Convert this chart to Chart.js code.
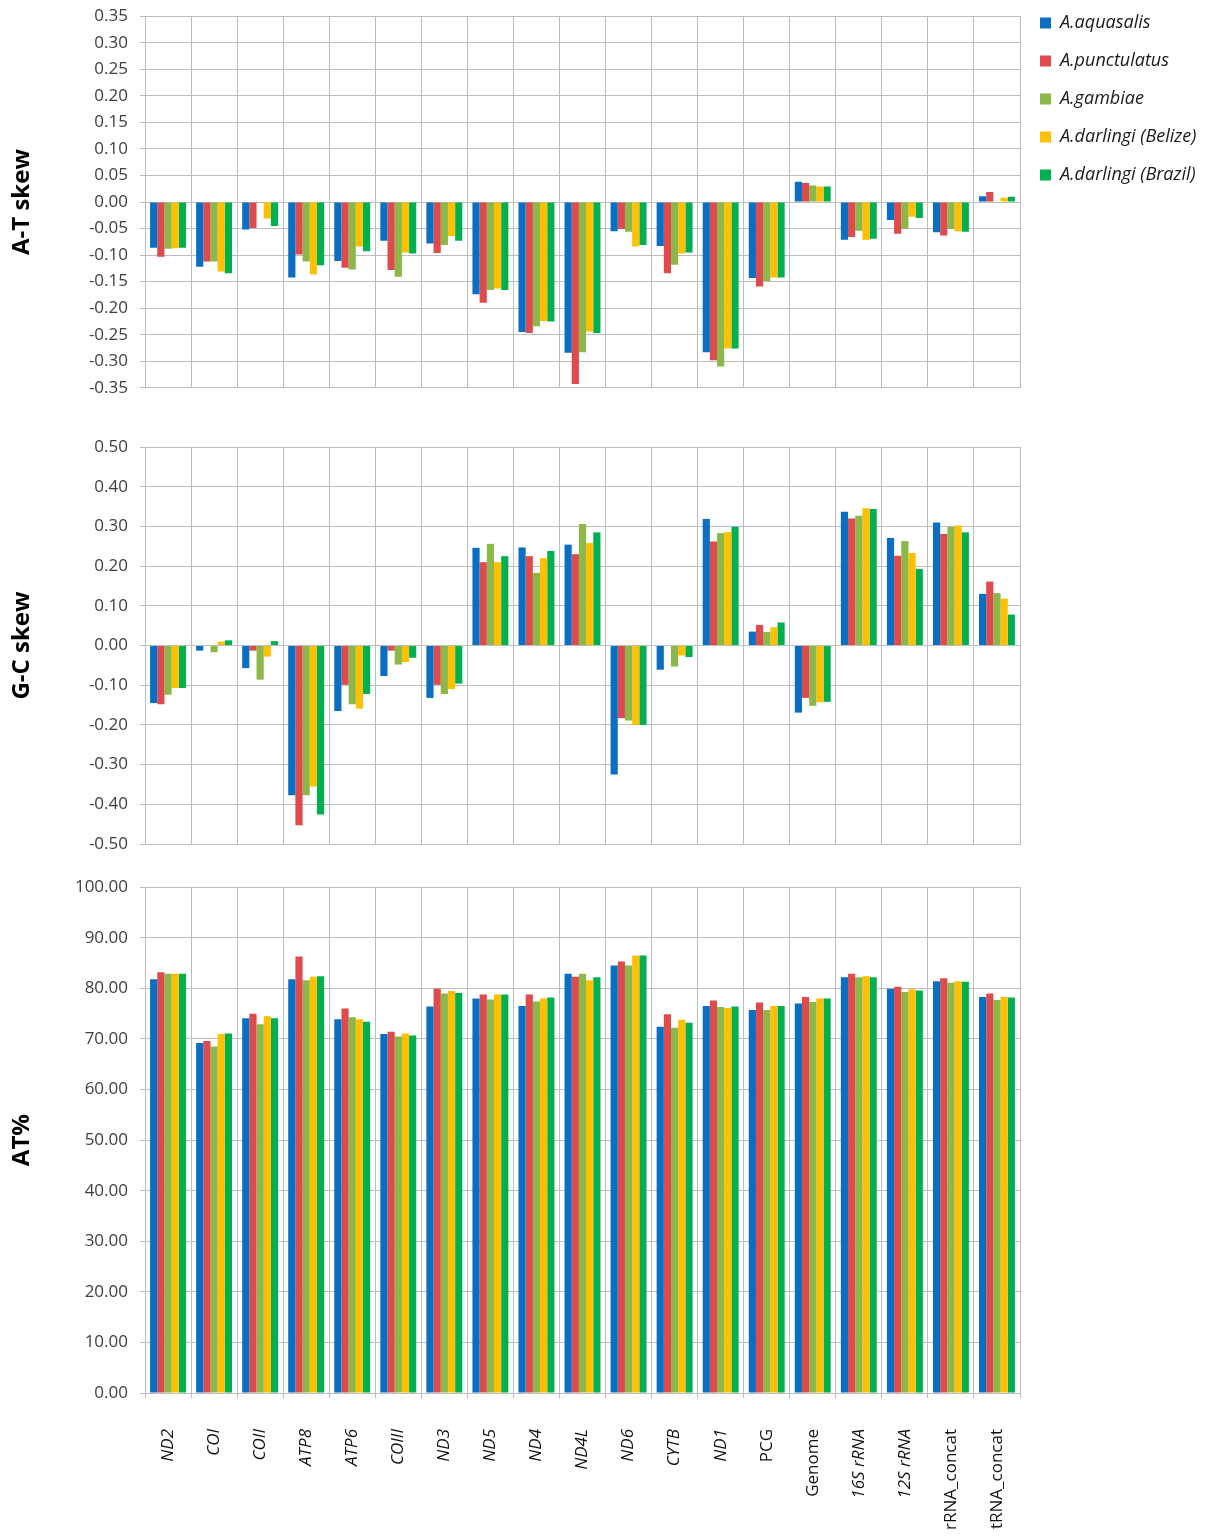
<!DOCTYPE html>
<html>
<head>
<meta charset="utf-8">
<title>Nucleotide skew and AT content of Anopheles mitogenomes</title>
<script src="https://cdn.jsdelivr.net/npm/chart.js@4.4.1/dist/chart.umd.min.js"></script>
<style>
  html, body { margin: 0; padding: 0; background: #ffffff; }
  body { width: 1221px; height: 1537px; position: relative; overflow: hidden; }
  canvas { position: absolute; left: 0; }
</style>
</head>
<body>
<canvas id="atSkewChart" width="1221" height="416" style="top:-6px"></canvas>
<canvas id="gcSkewChart" width="1221" height="458" style="top:412px"></canvas>
<canvas id="atContentChart" width="1221" height="672" style="top:865px"></canvas>
<script>
// ---- categories and species ----
const categories = ['ND2', 'COI', 'COII', 'ATP8', 'ATP6', 'COIII', 'ND3', 'ND5', 'ND4', 'ND4L',
  'ND6', 'CYTB', 'ND1', 'PCG', 'Genome', '16S rRNA', '12S rRNA', 'rRNA_concat', 'tRNA_concat'];
const uprightLabels = ['PCG', 'Genome', 'rRNA_concat', 'tRNA_concat'];
const speciesNames = ['A.aquasalis', 'A.punctulatus', 'A.gambiae', 'A.darlingi (Belize)', 'A.darlingi (Brazil)'];
const speciesColors = ['#0A6FC2', '#DF4A4C', '#8CB84A', '#FFC000', '#00AF50'];

// ---- A-T skew ----
const atSkewAquasalis   = [-0.086, -0.122, -0.052, -0.142, -0.111, -0.073, -0.078, -0.174, -0.245, -0.284, -0.055, -0.083, -0.283, -0.143, 0.038, -0.071, -0.034, -0.057, 0.011];
const atSkewPunctulatus = [-0.103, -0.112, -0.049, -0.099, -0.124, -0.128, -0.096, -0.190, -0.247, -0.343, -0.051, -0.134, -0.298, -0.159, 0.036, -0.066, -0.060, -0.063, 0.019];
const atSkewGambiae     = [-0.088, -0.112, -0.002, -0.112, -0.127, -0.141, -0.081, -0.166, -0.234, -0.283, -0.056, -0.118, -0.310, -0.149, 0.031, -0.054, -0.051, -0.051, -0.001];
const atSkewBelize      = [-0.087, -0.131, -0.031, -0.136, -0.084, -0.095, -0.064, -0.163, -0.224, -0.244, -0.084, -0.097, -0.276, -0.142, 0.029, -0.071, -0.028, -0.055, 0.008];
const atSkewBrazil      = [-0.086, -0.134, -0.045, -0.119, -0.093, -0.097, -0.073, -0.166, -0.225, -0.247, -0.081, -0.095, -0.276, -0.142, 0.029, -0.069, -0.030, -0.056, 0.010];

// ---- G-C skew ----
const gcSkewAquasalis   = [-0.145, -0.013, -0.057, -0.377, -0.165, -0.077, -0.132, 0.246, 0.247, 0.254, -0.325, -0.061, 0.319, 0.035, -0.169, 0.337, 0.271, 0.310, 0.130];
const gcSkewPunctulatus = [-0.148, 0.000, -0.013, -0.453, -0.099, -0.013, -0.099, 0.210, 0.225, 0.230, -0.183, 0.000, 0.262, 0.052, -0.132, 0.320, 0.226, 0.281, 0.161];
const gcSkewGambiae     = [-0.124, -0.017, -0.086, -0.377, -0.148, -0.048, -0.122, 0.256, 0.183, 0.306, -0.189, -0.053, 0.283, 0.034, -0.152, 0.327, 0.263, 0.299, 0.132];
const gcSkewBelize      = [-0.107, 0.010, -0.028, -0.355, -0.159, -0.042, -0.110, 0.210, 0.220, 0.258, -0.200, -0.025, 0.286, 0.046, -0.143, 0.346, 0.233, 0.302, 0.118];
const gcSkewBrazil      = [-0.107, 0.013, 0.011, -0.426, -0.122, -0.031, -0.096, 0.225, 0.238, 0.285, -0.200, -0.029, 0.299, 0.058, -0.142, 0.344, 0.193, 0.285, 0.078];

// ---- AT content (%) ----
const atPctAquasalis   = [81.8, 69.2, 74.1, 81.8, 73.9, 71.0, 76.4, 78.0, 76.5, 82.9, 84.5, 72.4, 76.5, 75.7, 77.0, 82.2, 79.9, 81.4, 78.3];
const atPctPunctulatus = [83.2, 69.6, 75.0, 86.3, 76.0, 71.4, 79.9, 78.8, 78.8, 82.3, 85.3, 74.9, 77.6, 77.2, 78.3, 82.9, 80.3, 82.0, 79.0];
const atPctGambiae     = [82.9, 68.5, 72.9, 81.6, 74.3, 70.5, 79.0, 77.8, 77.4, 82.9, 84.5, 72.2, 76.3, 75.7, 77.3, 82.2, 79.3, 81.1, 77.7];
const atPctBelize      = [82.9, 71.0, 74.5, 82.3, 73.9, 71.1, 79.5, 78.8, 78.0, 81.6, 86.5, 73.8, 76.1, 76.5, 78.0, 82.4, 79.8, 81.4, 78.3];
const atPctBrazil      = [82.9, 71.1, 74.1, 82.4, 73.4, 70.7, 79.1, 78.8, 78.2, 82.2, 86.5, 73.2, 76.4, 76.5, 78.0, 82.2, 79.6, 81.3, 78.2];

// ---- shared styling ----
const FONT = '"Open Sans", "DejaVu Sans", sans-serif';
const GRID = '#BDBDBD';
const PLOT_LEFT = 145;
const PLOT_RIGHT = 1020;
const CANVAS_W = 1221;

function formatTick(v) {
  return Math.abs(v) < 1e-9 ? '0.00' : Number(v).toFixed(2);
}

// Moves the legend up so its first entry sits level with the top of the plot.
const legendLift = {
  id: 'legendLift',
  afterLayout(chart, args, opts) {
    if (chart.legend && opts && typeof opts.top === 'number') {
      const h = chart.legend.height;
      chart.legend.top = opts.top;
      chart.legend.bottom = opts.top + h;
    }
  }
};

function buildPanel(canvasId, cfg) {
  const datasets = speciesNames.map((name, i) => ({
    label: name,
    data: cfg.series[i],
    backgroundColor: speciesColors[i],
    borderWidth: 0,
    categoryPercentage: 0.78,
    barPercentage: 1.0
  }));

  const chart = new Chart(document.getElementById(canvasId), {
    type: 'bar',
    data: { labels: categories, datasets },
    plugins: cfg.legend ? [legendLift] : [],
    options: {
      responsive: false,
      animation: false,
      devicePixelRatio: 1,
      events: [],
      layout: { padding: { top: cfg.padTop, right: CANVAS_W - PLOT_RIGHT, bottom: 0, left: 0 } },
      plugins: {
        tooltip: { enabled: false },
        legendLift: { top: 0 },
        legend: cfg.legend ? {
          display: true,
          position: 'right',
          align: 'start',
          labels: {
            boxWidth: 11,
            boxHeight: 11,
            padding: 20,
            color: '#1a1a1a',
            font: { family: FONT, size: 18, style: 'italic' }
          }
        } : { display: false }
      },
      scales: {
        x: {
          grid: { color: GRID, lineWidth: 1, offset: true, drawTicks: cfg.showLabels, tickLength: 5 },
          border: { color: GRID },
          ticks: {
            display: cfg.showLabels,
            autoSkip: false,
            minRotation: 90,
            maxRotation: 90,
            padding: 31,
            color: '#111111',
            font: (ctx) => ({
              family: FONT,
              size: 17,
              style: uprightLabels.includes(categories[ctx.index]) ? 'normal' : 'italic'
            })
          },
          afterFit: (scale) => { scale.height = cfg.xHeight; }
        },
        y: {
          min: cfg.min,
          max: cfg.max,
          grid: { color: GRID, lineWidth: 1, tickLength: 5 },
          border: { color: GRID },
          ticks: {
            stepSize: cfg.step,
            padding: 12,
            color: '#404040',
            font: { family: FONT, size: 17 },
            callback: formatTick
          },
          title: {
            display: true,
            text: cfg.title,
            color: '#000000',
            font: { family: FONT, size: 24, weight: 'bold' },
            padding: { top: 8, bottom: 0 }
          },
          afterFit: (scale) => { scale.width = PLOT_LEFT; }
        }
      }
    }
  });

  // Line the right edge of the plot up with the other panels.
  for (let pass = 0; pass < 3; pass++) {
    const delta = chart.chartArea.right - PLOT_RIGHT;
    if (Math.abs(delta) < 0.5) break;
    chart.options.layout.padding.right += delta;
    chart.update('none');
  }
  return chart;
}

// Canvas tops: -6, 412 and 865 px; plot areas span 15-388, 447-844 and 887-1393 px.
buildPanel('atSkewChart', {
  series: [atSkewAquasalis, atSkewPunctulatus, atSkewGambiae, atSkewBelize, atSkewBrazil],
  title: 'A-T skew', min: -0.35, max: 0.35, step: 0.05,
  padTop: 21, xHeight: 22, showLabels: false, legend: true
});

buildPanel('gcSkewChart', {
  series: [gcSkewAquasalis, gcSkewPunctulatus, gcSkewGambiae, gcSkewBelize, gcSkewBrazil],
  title: 'G-C skew', min: -0.5, max: 0.5, step: 0.1,
  padTop: 35, xHeight: 26, showLabels: false, legend: false
});

buildPanel('atContentChart', {
  series: [atPctAquasalis, atPctPunctulatus, atPctGambiae, atPctBelize, atPctBrazil],
  title: 'AT%', min: 0, max: 100, step: 10,
  padTop: 22, xHeight: 144, showLabels: true, legend: false
});
</script>
</body>
</html>
